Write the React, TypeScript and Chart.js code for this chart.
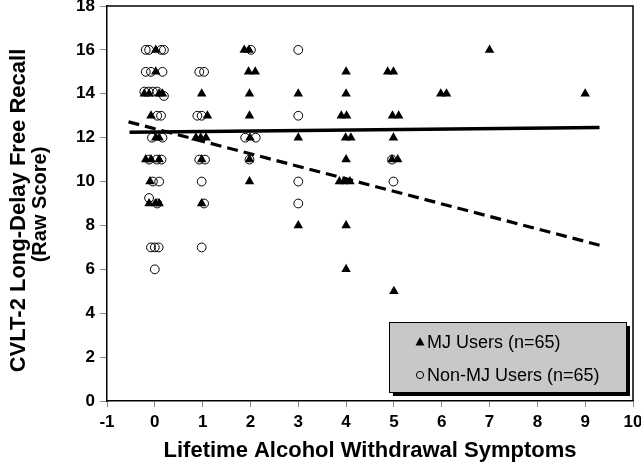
import React, { useEffect, useRef } from "react";
import { Chart, registerables } from "chart.js";

Chart.register(...registerables);

// ---- Data ----
const mjUsers = [
  // around 0 symptoms
  { x: 0.02, y: 16 },
  { x: 0.02, y: 15 },
  { x: -0.22, y: 14 }, { x: -0.12, y: 14 }, { x: 0.09, y: 14 }, { x: 0.16, y: 14 },
  { x: -0.08, y: 13 },
  { x: 0.02, y: 12 }, { x: 0.09, y: 12 },
  { x: -0.19, y: 11 }, { x: -0.08, y: 11 }, { x: 0.09, y: 11 },
  { x: -0.1, y: 10 },
  { x: -0.12, y: 9 }, { x: 0.02, y: 9 }, { x: 0.09, y: 9 },
  // 1
  { x: 0.98, y: 14 }, { x: 1.1, y: 13 }, { x: 0.86, y: 12 }, { x: 0.96, y: 12 }, { x: 1.07, y: 12 },
  { x: 0.98, y: 11 }, { x: 0.98, y: 9 },
  // 2
  { x: 1.87, y: 16 }, { x: 1.97, y: 16 }, { x: 1.96, y: 15 }, { x: 2.1, y: 15 }, { x: 1.98, y: 14 },
  { x: 1.98, y: 13 }, { x: 1.99, y: 12 }, { x: 1.98, y: 11 }, { x: 1.98, y: 10 },
  // 3
  { x: 3.0, y: 14 }, { x: 3.0, y: 12 }, { x: 3.0, y: 8 },
  // 4
  { x: 4.0, y: 15 }, { x: 4.0, y: 14 }, { x: 3.9, y: 13 }, { x: 4.01, y: 13 }, { x: 3.99, y: 12 }, { x: 4.1, y: 12 },
  { x: 4.0, y: 11 }, { x: 3.86, y: 10 }, { x: 3.96, y: 10 }, { x: 4.08, y: 10 }, { x: 4.0, y: 8 }, { x: 4.0, y: 6 },
  // 5
  { x: 4.87, y: 15 }, { x: 4.99, y: 15 }, { x: 4.97, y: 13 }, { x: 5.1, y: 13 }, { x: 4.99, y: 12 },
  { x: 4.96, y: 11 }, { x: 5.08, y: 11 }, { x: 5.0, y: 5 },
  // 6, 7, 9
  { x: 5.98, y: 14 }, { x: 6.1, y: 14 }, { x: 7.0, y: 16 }, { x: 9.0, y: 14 },
];

const nonMjUsers = [
  // around 0 symptoms
  { x: -0.19, y: 16 }, { x: -0.12, y: 16 }, { x: 0.13, y: 16 }, { x: 0.19, y: 16 },
  { x: -0.19, y: 15 }, { x: -0.08, y: 15 }, { x: 0.16, y: 15 },
  { x: -0.22, y: 14.1 }, { x: -0.13, y: 14.1 }, { x: -0.04, y: 14.1 }, { x: 0.05, y: 14.1 }, { x: 0.19, y: 13.9 },
  { x: 0.05, y: 13 }, { x: 0.13, y: 13 },
  { x: -0.06, y: 12 }, { x: 0.16, y: 12 },
  { x: -0.12, y: 11 }, { x: 0.04, y: 11 }, { x: 0.14, y: 11 },
  { x: -0.04, y: 10 }, { x: 0.09, y: 10 },
  { x: -0.12, y: 9.25 }, { x: 0.05, y: 9 },
  { x: -0.08, y: 7 }, { x: 0.0, y: 7 }, { x: 0.08, y: 7 },
  { x: 0.0, y: 6 },
  // 1
  { x: 0.93, y: 15 }, { x: 1.03, y: 15 }, { x: 0.89, y: 13 }, { x: 0.98, y: 13 },
  { x: 0.93, y: 11 }, { x: 1.05, y: 11 }, { x: 0.98, y: 10 }, { x: 1.03, y: 9 }, { x: 0.98, y: 7 },
  // 2
  { x: 2.01, y: 16 }, { x: 1.89, y: 12 }, { x: 2.11, y: 12 }, { x: 1.98, y: 11 },
  // 3
  { x: 3.0, y: 16 }, { x: 3.0, y: 13 }, { x: 3.0, y: 10 }, { x: 3.0, y: 9 },
  // 5
  { x: 4.96, y: 11 }, { x: 4.99, y: 10 },
];

// regression lines (start, end)
const mjTrend = [ { x: -0.53, y: 12.25 }, { x: 9.3, y: 12.46 } ];
const nonMjTrend = [ { x: -0.55, y: 12.72 }, { x: 9.3, y: 7.1 } ];

const xTitle = "Lifetime Alcohol Withdrawal Symptoms";
const yTitle = ["CVLT-2 Long-Delay Free Recall", "(Raw Score)"];
const legendLabels = ["MJ Users (n=65)", "Non-MJ Users (n=65)"];

const FONT = "'Liberation Sans', Arial, sans-serif";

const framePlugin = {
  id: "frame",
  afterDraw(chart: any) {
    const { ctx, chartArea } = chart;
    const { left, right, top, bottom } = chartArea;
    ctx.save();
    ctx.strokeStyle = "#000";
    ctx.lineWidth = 1.5;
    ctx.beginPath();
    ctx.moveTo(left, top);
    ctx.lineTo(right, top);
    ctx.lineTo(right, bottom);
    ctx.stroke();

    // y axis title (two lines)
    const midY = (top + bottom) / 2;
    ctx.fillStyle = "#000";
    ctx.textAlign = "center";
    ctx.textBaseline = "middle";
    ctx.save();
    ctx.translate(19, midY + 7);
    ctx.rotate(-Math.PI / 2);
    ctx.font = `bold 22px ${FONT}`;
    ctx.fillText(yTitle[0], 0, 0);
    ctx.restore();
    ctx.save();
    ctx.translate(40, midY + 1);
    ctx.rotate(-Math.PI / 2);
    ctx.font = `bold 20px ${FONT}`;
    ctx.fillText(yTitle[1], 0, 0);
    ctx.restore();

    // legend box
    const bx = 389, by = 322, bw = 237, bh = 70;
    ctx.fillStyle = "#000";
    ctx.fillRect(bx + 4, by + 4, bw, bh);
    ctx.fillStyle = "#c8c8c8";
    ctx.fillRect(bx, by, bw, bh);
    ctx.strokeStyle = "#000";
    ctx.lineWidth = 1;
    ctx.strokeRect(bx + 0.5, by + 0.5, bw, bh);

    // markers
    const mx = 420;
    const r1 = 342, r2 = 375;
    ctx.fillStyle = "#000";
    ctx.beginPath();
    ctx.moveTo(mx, r1 - 5);
    ctx.lineTo(mx + 4.5, r1 + 3.5);
    ctx.lineTo(mx - 4.5, r1 + 3.5);
    ctx.closePath();
    ctx.fill();
    ctx.beginPath();
    ctx.arc(mx, r2, 3.6, 0, Math.PI * 2);
    ctx.lineWidth = 1;
    ctx.stroke();

    ctx.fillStyle = "#000";
    ctx.font = `18px ${FONT}`;
    ctx.textAlign = "left";
    ctx.textBaseline = "middle";
    ctx.fillText(legendLabels[0], 427, r1 + 1);
    ctx.fillText(legendLabels[1], 427, r2 + 1);
    ctx.restore();
  },
};

export default function App() {
  const ref = useRef<HTMLCanvasElement | null>(null);

  useEffect(() => {
    document.body.style.margin = "0";
    const canvas = ref.current;
    if (!canvas) return;
    const chart = new Chart(canvas, {
      type: "scatter",
      data: {
        datasets: [
          {
            type: "line",
            label: "MJ trend",
            data: mjTrend,
            borderColor: "#000",
            borderWidth: 3.5,
            pointRadius: 0,
            fill: false,
          } as any,
          {
            type: "line",
            label: "Non-MJ trend",
            data: nonMjTrend,
            borderColor: "#000",
            borderWidth: 3.2,
            borderDash: [11, 6],
            pointRadius: 0,
            fill: false,
          } as any,
          {
            label: legendLabels[0],
            data: mjUsers,
            pointStyle: "triangle",
            pointRadius: 5.5,
            backgroundColor: "#000",
            borderColor: "#000",
            borderWidth: 0,
          },
          {
            label: legendLabels[1],
            data: nonMjUsers,
            pointStyle: "circle",
            pointRadius: 4.4,
            backgroundColor: "rgba(0,0,0,0)",
            borderColor: "#000",
            borderWidth: 1,
          },
        ],
      },
      options: {
        responsive: false,
        animation: false,
        layout: { padding: { top: 6, right: 8, left: 0, bottom: 0 } },
        plugins: {
          legend: { display: false },
          tooltip: { enabled: false },
        },
        scales: {
          x: {
            type: "linear",
            min: -1,
            max: 10,
            afterFit: (s: any) => {
              s.height = 66;
              s.paddingLeft = 0;
              s.paddingRight = 0;
            },
            ticks: {
              stepSize: 1,
              color: "#000",
              padding: 5,
              font: { family: FONT, size: 17, weight: "bold" },
            },
            grid: {
              drawOnChartArea: false,
              tickLength: 6,
              tickColor: "#888",
            },
            border: { color: "#000", width: 1.5 },
            title: {
              display: true,
              text: xTitle,
              color: "#000",
              font: { family: FONT, size: 22, weight: "bold" },
              padding: { top: 0, bottom: 3 },
            },
          },
          y: {
            type: "linear",
            min: 0,
            max: 18,
            afterFit: (s: any) => {
              s.width = 107;
              s.paddingTop = 0;
              s.paddingBottom = 0;
            },
            ticks: {
              stepSize: 2,
              color: "#000",
              padding: 5,
              font: { family: FONT, size: 17, weight: "bold" },
            },
            grid: {
              drawOnChartArea: false,
              tickLength: 7,
              tickColor: "#888",
            },
            border: { color: "#000", width: 1.5 },
            title: { display: false },
          },
        },
      },
      plugins: [framePlugin],
    });
    return () => chart.destroy();
  }, []);

  return (
    <div style={{ width: 641, height: 467, background: "#fff" }}>
      <canvas ref={ref} width={641} height={467} style={{ display: "block" }} />
    </div>
  );
}
